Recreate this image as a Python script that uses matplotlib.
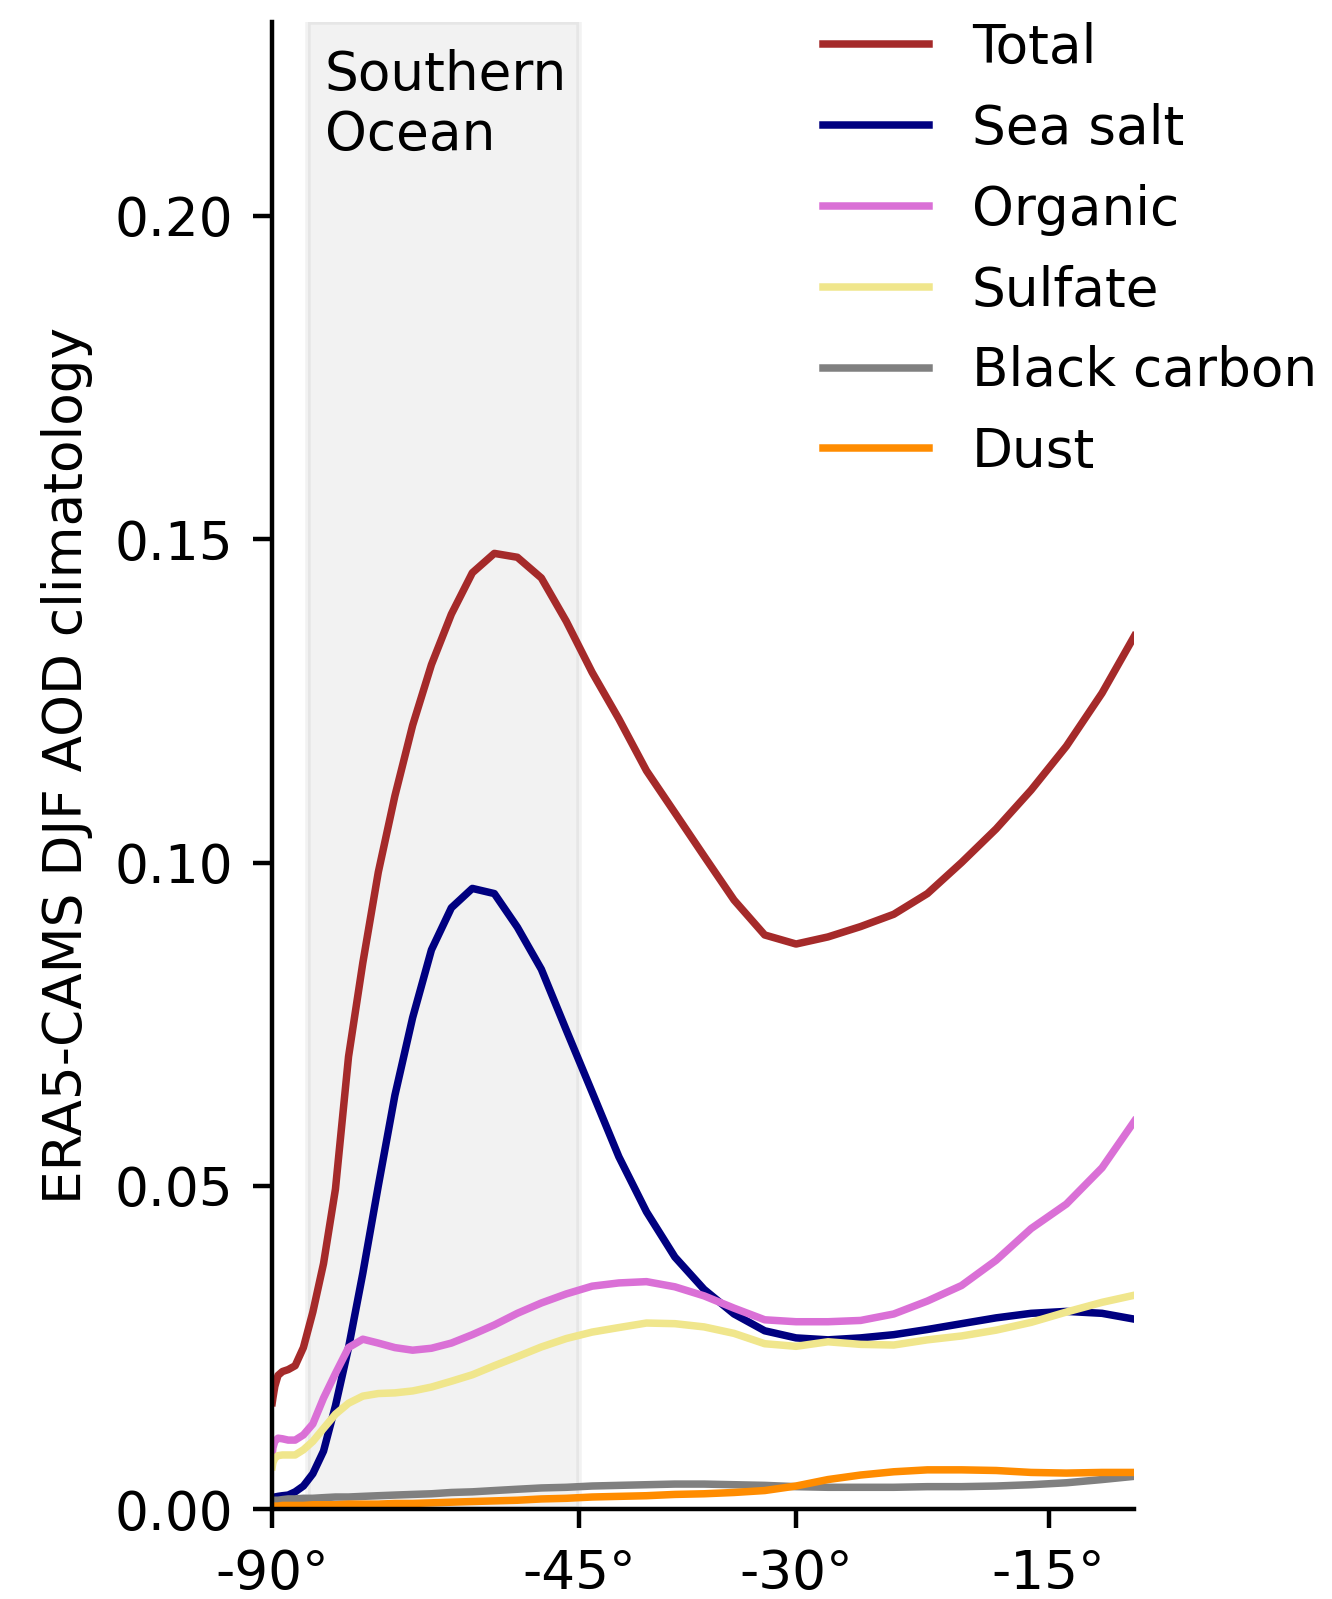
import numpy as np
import matplotlib
matplotlib.use('Agg')
import matplotlib.pyplot as plt

plt.rcParams['font.size'] = 9.6

# latitude grid (deg) and zonal mean DJF AOD per species
lat = [-90, -88, -86, -84, -82, -80, -78, -76, -74, -72, -70, -68, -66, -64,
       -62, -60, -58, -56, -54, -52, -50, -48, -46, -44, -42, -40, -38, -36,
       -34, -32, -30, -28, -26, -24, -22, -20, -18, -16, -14, -12, -10.2]

total = [0.0165, 0.0172, 0.0190, 0.0207, 0.0213, 0.0216, 0.0222, 0.0250, 0.0305, 0.0380,
         0.0495, 0.0700, 0.0845, 0.0985, 0.1103, 0.1212, 0.1306, 0.1384, 0.1448, 0.1478,
         0.1472, 0.1440, 0.1373, 0.1294, 0.1222, 0.1142, 0.1077, 0.1010, 0.0942, 0.0888,
         0.0874, 0.0885, 0.0901, 0.0920, 0.0952, 0.1000, 0.1052, 0.1112, 0.1180, 0.1262,
         0.1350]
sea_salt = [0.0015, 0.0017, 0.0019, 0.0020, 0.0021, 0.0022, 0.0027, 0.0036, 0.0055, 0.0090,
            0.0160, 0.0250, 0.0365, 0.0500, 0.0640, 0.0760, 0.0865, 0.0930, 0.0960, 0.0952,
            0.0900, 0.0835, 0.0741, 0.0645, 0.0545, 0.0460, 0.0390, 0.0340, 0.0302, 0.0276,
            0.0265, 0.0262, 0.0265, 0.0270, 0.0278, 0.0287, 0.0296, 0.0303, 0.0306, 0.0303,
            0.0294]
organic = [0.0085, 0.0095, 0.0105, 0.0110, 0.0109, 0.0107, 0.0107, 0.0115, 0.0132, 0.0172,
           0.0210, 0.0250, 0.0263, 0.0257, 0.0250, 0.0246, 0.0249, 0.0257, 0.0270, 0.0285,
           0.0303, 0.0319, 0.0333, 0.0345, 0.0350, 0.0352, 0.0344, 0.0330, 0.0311, 0.0293,
           0.0290, 0.0290, 0.0292, 0.0302, 0.0322, 0.0346, 0.0385, 0.0434, 0.0472, 0.0528,
           0.0600]
sulfate = [0.0066, 0.0072, 0.0079, 0.0083, 0.0084, 0.0084, 0.0084, 0.0092, 0.0105, 0.0125,
           0.0147, 0.0164, 0.0175, 0.0179, 0.0180, 0.0183, 0.0189, 0.0198, 0.0208, 0.0222,
           0.0236, 0.0251, 0.0264, 0.0274, 0.0281, 0.0288, 0.0287, 0.0282, 0.0272, 0.0256,
           0.0252, 0.0259, 0.0255, 0.0254, 0.0262, 0.0268, 0.0277, 0.0289, 0.0305, 0.0320,
           0.0331]
black_carbon = [0.0013, 0.0013, 0.0014, 0.0014, 0.0015, 0.0016, 0.0016, 0.0017, 0.0017, 0.0018,
                0.0019, 0.0019, 0.0020, 0.0021, 0.0022, 0.0023, 0.0024, 0.0026, 0.0027, 0.0029,
                0.0031, 0.0033, 0.0034, 0.0036, 0.0037, 0.0038, 0.0039, 0.0039, 0.0038, 0.0037,
                0.0035, 0.0034, 0.0034, 0.0034, 0.0035, 0.0035, 0.0036, 0.0038, 0.0041, 0.0046,
                0.0051]
dust = [0.0005, 0.0005, 0.0005, 0.0005, 0.0006, 0.0006, 0.0006, 0.0006, 0.0007, 0.0007,
        0.0007, 0.0008, 0.0008, 0.0008, 0.0009, 0.0009, 0.0010, 0.0011, 0.0012, 0.0013,
        0.0014, 0.0016, 0.0017, 0.0019, 0.0020, 0.0021, 0.0023, 0.0024, 0.0026, 0.0029,
        0.0036, 0.0046, 0.0053, 0.0058, 0.0061, 0.0061, 0.0060, 0.0057, 0.0056, 0.0057,
        0.0057]

xticks = [-90, -45, -30, -15]
xticklabels = ['-90°', '-45°', '-30°', '-15°']


def fwd(x):
    return np.sin(np.deg2rad(x))


def inv(y):
    return np.rad2deg(np.arcsin(np.clip(y, -1, 1)))


fig = plt.figure(figsize=(3.33, 3.9975), dpi=400)
ax = fig.add_axes([0.2044, 0.0561, 0.6472, 0.9303])
ax.set_xscale('function', functions=(fwd, inv))

ax.axvspan(-75, -45, color='gray', alpha=0.1)

lw = 1.35
ax.plot(lat, total, color='brown', lw=lw, label='Total')
ax.plot(lat, sea_salt, color='navy', lw=lw, label='Sea salt')
ax.plot(lat, organic, color='orchid', lw=lw, label='Organic')
ax.plot(lat, sulfate, color='khaki', lw=lw, label='Sulfate')
ax.plot(lat, black_carbon, color='gray', lw=lw, label='Black carbon')
ax.plot(lat, dust, color='darkorange', lw=lw, label='Dust')

ax.set_xlim(-90, -10.2)
ax.set_ylim(0, 0.23)
ax.set_xticks(xticks)
ax.set_xticklabels(xticklabels)
ax.set_yticks([0, 0.05, 0.10, 0.15, 0.20])
ax.set_yticklabels(['0.00', '0.05', '0.10', '0.15', '0.20'])
ax.spines['top'].set_visible(False)
ax.spines['right'].set_visible(False)
ax.set_ylabel('ERA5-CAMS DJF AOD climatology')

ax.text(0.061, 0.982, 'Southern\nOcean', transform=ax.transAxes, va='top', ha='left')

fig.legend(loc='upper left', bbox_to_anchor=(0.6015, 0.9995), frameon=False,
           borderaxespad=0, labelspacing=0.54)

fig.savefig('out.png', dpi=400)
